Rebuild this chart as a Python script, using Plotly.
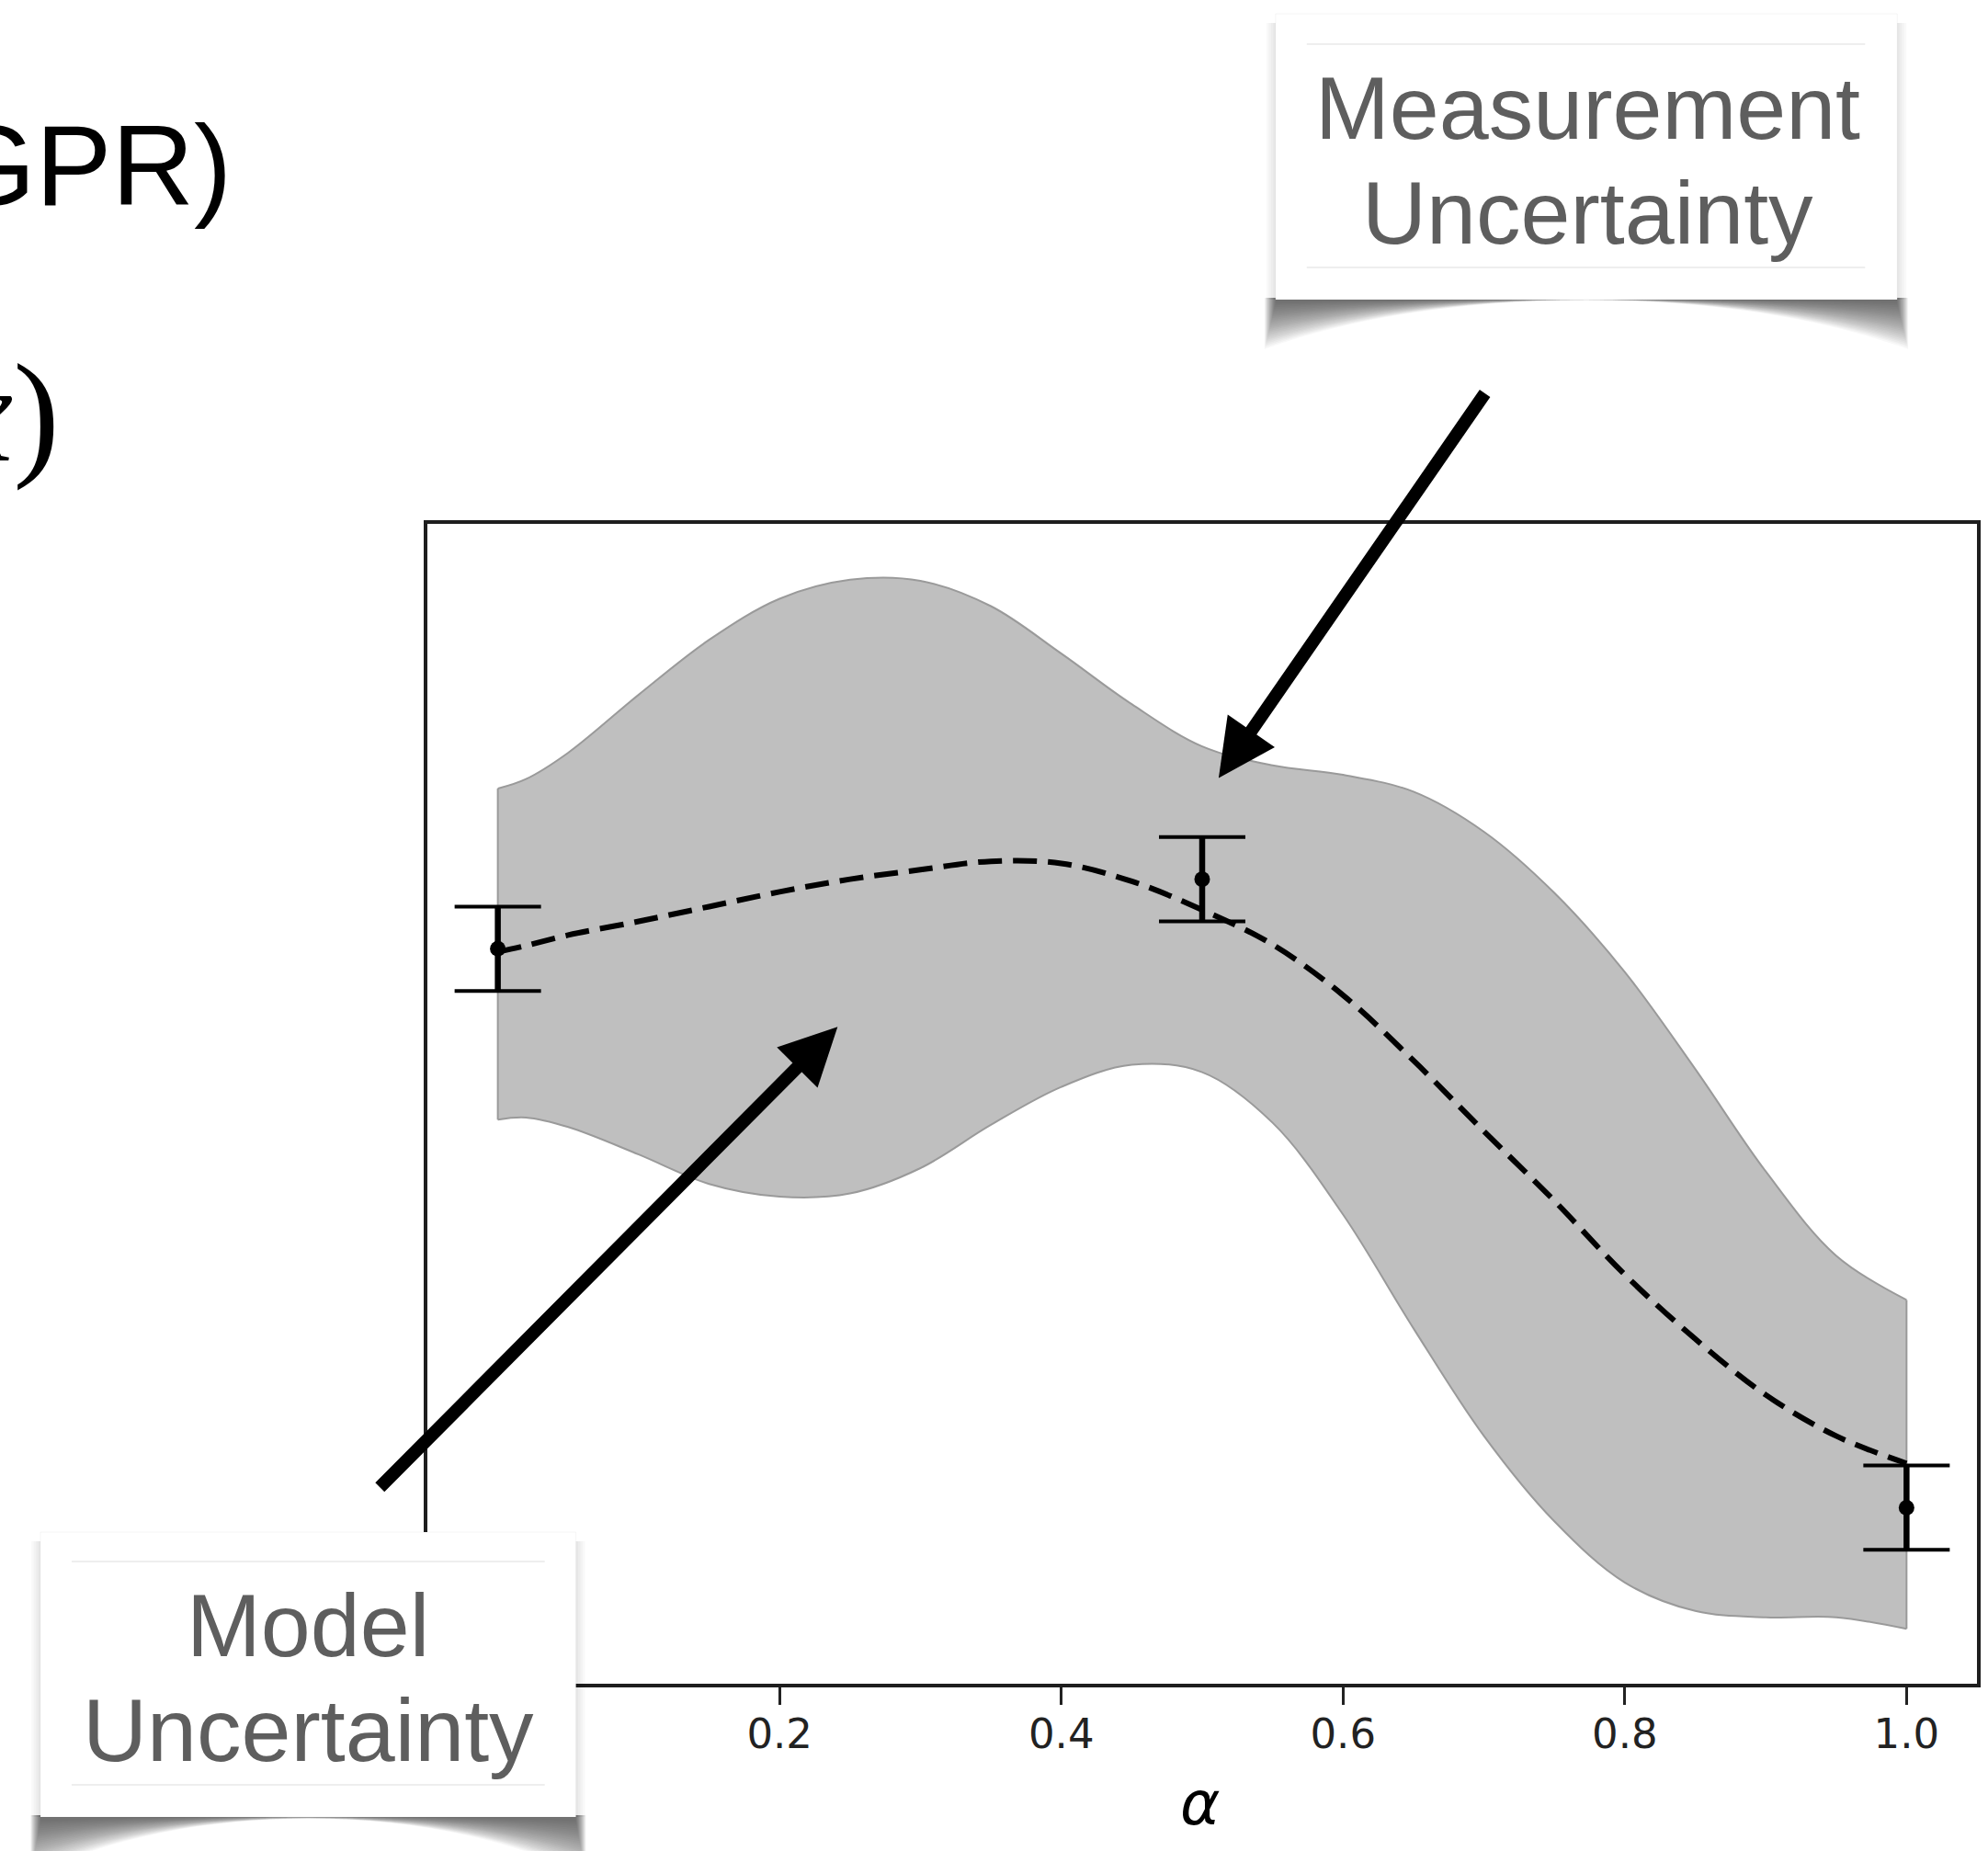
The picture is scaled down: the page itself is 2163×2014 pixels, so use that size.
import plotly.graph_objects as go

# ---------------- data ----------------
alpha_grid = [0.00, 0.02, 0.05, 0.10, 0.15, 0.20, 0.25, 0.30, 0.35, 0.40, 0.45, 0.50,
              0.55, 0.60, 0.65, 0.70, 0.75, 0.80, 0.85, 0.90, 0.95, 1.00]
band_upper = [0.799, 0.808, 0.833, 0.888, 0.940, 0.979, 0.997, 0.996, 0.972, 0.927, 0.879, 0.839,
              0.821, 0.812, 0.796, 0.758, 0.700, 0.625, 0.533, 0.436, 0.356, 0.314]
band_lower = [0.485, 0.487, 0.478, 0.452, 0.424, 0.412, 0.415, 0.439, 0.480, 0.516, 0.537, 0.530,
              0.482, 0.395, 0.287, 0.185, 0.104, 0.046, 0.019, 0.013, 0.013, 0.002]
gp_mean = [0.644, 0.650, 0.660, 0.673, 0.687, 0.701, 0.713, 0.722, 0.730, 0.728, 0.711, 0.684,
           0.651, 0.603, 0.541, 0.474, 0.408, 0.338, 0.277, 0.224, 0.185, 0.159]
obs_alpha = [0.0, 0.5, 1.0]
obs_value = [0.647, 0.713, 0.117]
obs_error = [0.04, 0.04, 0.04]
tick_values = [0.0, 0.2, 0.4, 0.6, 0.8, 1.0]
tick_labels = ["0.0", "0.2", "0.4", "0.6", "0.8", "1.0"]

# arrows: (tip alpha, tip value, tail alpha, tail value)
arrow_measure = (0.5117, 0.809, 0.7014, 1.175)
arrow_model = (0.2412, 0.573, -0.0847, 0.135)

# ---------------- layout geometry ----------------
W, H = 2163, 2014
ML, MR, MT, MB = 465, 8, 570, 182
PW = W - ML - MR
PH = H - MT - MB


def X(px):
    return (px - ML) / PW


def Y(py):
    return (H - MB - py) / PH


FILL = "#bfbfbf"
EDGE = "#9a9a9a"
TXT = "#5e5e5e"

fig = go.Figure()

# uncertainty band
fig.add_trace(go.Scatter(x=alpha_grid, y=band_lower, mode="lines",
                         line=dict(color=EDGE, width=2, shape="spline"),
                         hoverinfo="skip", showlegend=False))
fig.add_trace(go.Scatter(x=alpha_grid, y=band_upper, mode="lines", fill="tonexty",
                         fillcolor=FILL, line=dict(color=EDGE, width=2, shape="spline"),
                         hoverinfo="skip", showlegend=False))
for i in (0, -1):
    fig.add_trace(go.Scatter(x=[alpha_grid[i], alpha_grid[i]], y=[band_lower[i], band_upper[i]],
                             mode="lines", line=dict(color=EDGE, width=2),
                             hoverinfo="skip", showlegend=False))

# GP mean
fig.add_trace(go.Scatter(x=alpha_grid, y=gp_mean, mode="lines",
                         line=dict(color="black", width=6, dash="26px,12px", shape="spline"),
                         showlegend=False))

# measurements with error bars (thick stem + thinner caps)
fig.add_trace(go.Scatter(x=obs_alpha, y=obs_value, mode="markers",
                         marker=dict(color="black", size=1),
                         error_y=dict(type="data", array=obs_error, color="black",
                                      thickness=6.5, width=0),
                         showlegend=False))
fig.add_trace(go.Scatter(x=obs_alpha, y=obs_value, mode="markers",
                         marker=dict(color="black", size=17),
                         error_y=dict(type="data", array=obs_error, color="black",
                                      thickness=4, width=47),
                         showlegend=False))

shapes = []


def label_box(L, T, R, B, line_y, line_x0, line_x1, dc, dm, ext):
    out = []
    # soft side halo
    for k in (4, 3, 2, 1):
        out.append(dict(type="rect", xref="paper", yref="paper",
                        x0=X(L - 2.5 * k), x1=X(R + 2.5 * k), y0=Y(B), y1=Y(T + 10),
                        fillcolor="rgba(0,0,0,0.025)", line=dict(width=0), layer="above"))
    # curled bottom shadow built from many faint layers
    n = 26
    for k in range(n):
        t = k / (n - 1)
        l = L - ext * (1 - t)
        r = R + ext * (1 - t)
        d_c = dc * (1 - 0.92 * t)
        d_m = dm * (1 - t)
        c = (d_m - 0.3 * d_c) / 0.7
        w = r - l
        path = (f"M {X(l)},{Y(B - 2)} L {X(l)},{Y(B + d_c)} "
                f"C {X(l + 0.28 * w)},{Y(B + c)} {X(r - 0.28 * w)},{Y(B + c)} {X(r)},{Y(B + d_c)} "
                f"L {X(r)},{Y(B - 2)} Z")
        out.append(dict(type="path", path=path, xref="paper", yref="paper",
                        fillcolor="rgba(0,0,0,0.027)", line=dict(width=0), layer="above"))
    # the card
    out.append(dict(type="rect", xref="paper", yref="paper",
                    x0=X(L), x1=X(R), y0=Y(B), y1=Y(T),
                    fillcolor="white", line=dict(color="rgba(0,0,0,0.04)", width=1),
                    layer="above"))
    for ly in line_y:
        out.append(dict(type="line", xref="paper", yref="paper",
                        x0=X(line_x0), x1=X(line_x1), y0=Y(ly), y1=Y(ly),
                        line=dict(color="#e8e8e8", width=1.5), layer="above"))
    return out


shapes += label_box(1390, 15, 2068, 326, (48, 291), 1424, 2033, 54, 4, 12)
shapes += label_box(43, 1667, 627, 1977, (1699, 1942), 77, 593, 64, 6, 11)

annotations = []


def text_ann(txt, cx, cy, size, family, color, xanchor="center"):
    return dict(text=txt, x=X(cx), y=Y(cy), xref="paper", yref="paper",
                xanchor=xanchor, yanchor="middle", showarrow=False,
                font=dict(size=size, family=family, color=color))


annotations.append(text_ann("Measurement", 1730, 117, 97, "Liberation Sans, Arial", TXT))
annotations.append(text_ann("Uncertainty", 1730, 231, 97, "Liberation Sans, Arial", TXT))
annotations.append(text_ann("Model", 335, 1768, 97, "Liberation Sans, Arial", TXT))
annotations.append(text_ann("Uncertainty", 335, 1882, 97, "Liberation Sans, Arial", TXT))
annotations.append(text_ann("(GPR)", 254, 180, 124, "Liberation Sans, Arial", "black", "right"))
annotations.append(text_ann("<i>f</i>(<i>x</i>)", 66, 450, 152, "Liberation Serif, serif", "black", "right"))
annotations.append(text_ann("<i>α</i>", 1308, 1962, 66, "DejaVu Sans", "black"))

for tip_x, tip_y, tail_x, tail_y in (arrow_measure, arrow_model):
    annotations.append(dict(x=tip_x, y=tip_y, xref="x", yref="y",
                            ax=tail_x, ay=tail_y, axref="x", ayref="y",
                            text="", showarrow=True, arrowhead=2, arrowsize=0.89,
                            arrowwidth=14, arrowcolor="black", standoff=0))

fig.update_layout(
    width=W, height=H, autosize=False,
    margin=dict(l=ML, r=MR, t=MT, b=MB, pad=0),
    paper_bgcolor="white", plot_bgcolor="white",
    showlegend=False,
    shapes=shapes,
    annotations=annotations,
    xaxis=dict(range=[-0.05, 1.05], tickvals=tick_values, ticktext=tick_labels,
               ticks="outside", ticklen=19, tickwidth=2.5, tickcolor="#222",
               ticklabelstandoff=-7,
               showline=True, linewidth=3.5, linecolor="#1e1e1e", mirror=True,
               showgrid=False, zeroline=False,
               tickfont=dict(family="DejaVu Sans", size=45, color="#222")),
    yaxis=dict(range=[-0.05, 1.05], showticklabels=False, ticks="",
               showline=True, linewidth=3.5, linecolor="#1e1e1e", mirror=True,
               showgrid=False, zeroline=False),
)

fig.write_html("out.html", config={"displayModeBar": False},
               post_script="document.body.style.margin='0px';")
